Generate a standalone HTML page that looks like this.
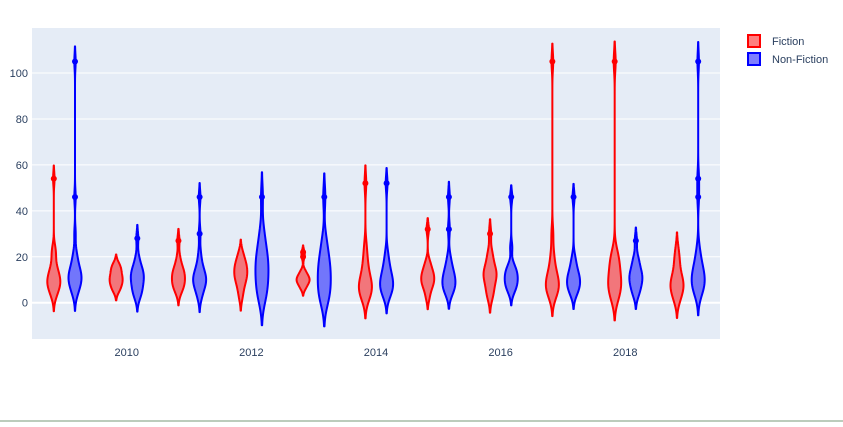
<!DOCTYPE html>
<html><head><meta charset="utf-8"><style>
body{margin:0;background:#fff;width:843px;height:422px;overflow:hidden;font-family:"Liberation Sans",sans-serif}
</style></head><body>
<svg id="chart" width="843" height="422" xmlns="http://www.w3.org/2000/svg">
<rect x="32" y="28" width="688" height="311" fill="#e5ecf6"/>
<g id="grid"></g><g id="violins"></g><g id="axes"></g>
<g>
<rect x="748" y="35" width="12" height="12" fill="rgba(255,0,0,0.5)" stroke="#f00" stroke-width="2"/>
<text x="772" y="45" font-size="11" fill="#2a3f5f">Fiction</text>
<rect x="748" y="53" width="12" height="12" fill="rgba(0,0,255,0.5)" stroke="#00f" stroke-width="2"/>
<text x="772" y="63" font-size="11" fill="#2a3f5f">Non-Fiction</text>
</g>
<line x1="0" y1="421" x2="843" y2="421" stroke="#7a9a7a" stroke-width="1"/>
</svg>
<script>
const years=[2009,2010,2011,2012,2013,2014,2015,2016,2017,2018,2019];
const fiction=[
[2,4,5,6,7,8,8,9,10,10,11,12,13,14,15,17,20,22,24,54],
[5,6,7,8,9,10,10,11,12,13,14,15,16,17],
[4,6,7,8,9,10,11,12,13,14,15,17,20,27],
[2,5,7,9,10,11,12,13,14,15,16,17,18,20,22],
[6,7,8,9,9,10,10,11,11,12,13,14,20,22],
[1,3,4,5,6,7,8,9,10,12,14,17,20,25,52],
[2,5,7,8,9,10,11,12,13,14,16,18,32],
[2,4,6,8,10,11,12,13,14,15,17,20,22,30],
[2,4,5,6,7,8,9,10,11,13,15,18,22,30,105],
[1,3,5,6,8,9,10,12,14,16,18,20,22,105],
[0,2,4,5,6,7,8,9,10,11,13,15,18,20,24]];
const nonfiction=[
[3,5,6,7,8,9,10,10,11,12,12,13,14,15,16,18,20,22,30,46,105],
[2,4,5,6,8,9,10,11,12,13,14,15,17,20,28],
[2,4,6,7,8,9,10,10,11,12,13,14,16,18,22,30,46],
[1,3,5,7,9,11,13,15,16,18,20,22,24,28,32,46],
[0,2,4,6,8,10,12,14,16,18,20,24,28,46],
[2,4,5,6,7,8,9,10,11,12,14,16,18,22,52],
[4,5,6,7,8,9,10,11,12,13,15,17,20,32,46],
[4,6,7,8,9,10,11,12,13,14,15,17,24,46],
[3,5,6,7,8,9,10,11,12,13,15,17,20,46],
[3,5,6,8,9,10,11,12,13,14,16,18,20,27],
[3,5,6,7,8,9,10,11,12,13,14,16,18,20,24,46,54,105]];
const yTicks=[0,20,40,60,80,100];
const xTicks=[2010,2012,2014,2016,2018];

const NS="http://www.w3.org/2000/svg";
const X0=32,X1=720,Y0=28,Y1=339;
const xmin=2008.48,xmax=2019.52,ymin=-15.8,ymax=119.6;
const xs=v=>X0+(v-xmin)/(xmax-xmin)*(X1-X0);
const ys=v=>Y1-(v-ymin)/(ymax-ymin)*(Y1-Y0);
function mk(tag,attrs,parent){const e=document.createElementNS(NS,tag);for(const k in attrs)e.setAttribute(k,attrs[k]);parent.appendChild(e);return e;}
const grid=document.getElementById('grid'),axes=document.getElementById('axes'),vg=document.getElementById('violins');
yTicks.forEach(t=>{
  const l=mk('line',{x1:X0,x2:X1,y1:ys(t),y2:ys(t),stroke:'#fff','stroke-width':t===0?2:1},grid);
  
  
  const tx=mk('text',{x:X0-4,y:ys(t)+4,'text-anchor':'end','font-size':11,fill:'#2a3f5f'},axes);
  
  
  tx.textContent=t;
});
xTicks.forEach(t=>{
  const tx=mk('text',{x:xs(t),y:Y1+17,'text-anchor':'middle','font-size':11,fill:'#2a3f5f'},axes);
  
  
  tx.textContent=t;
});
function quant(s,q){const p=(s.length-1)*q,i=Math.floor(p);return s[i]+(s[Math.min(i+1,s.length-1)]-s[i])*(p-i);}
function violin(vals,cx,color,fill,name){
  const s=[...vals].sort((a,b)=>a-b),n=s.length;
  const mean=s.reduce((a,b)=>a+b,0)/n;
  const sd=Math.sqrt(s.reduce((a,b)=>a+(b-mean)**2,0)/(n-1));
  const iqr=quant(s,.75)-quant(s,.25);
  const bw=0.9*Math.min(sd,iqr/1.34)*Math.pow(n,-0.2);
  const lo=s[0]-2*bw,hi=s[n-1]+2*bw,N=200;
  const pts=[];let mx=0;
  for(let i=0;i<=N;i++){const y=lo+(hi-lo)*i/N;let d=0;s.forEach(v=>d+=Math.exp(-0.5*((y-v)/bw)**2));pts.push([y,d]);if(d>mx)mx=d;}
  const hw=6.5;
  let dstr='';
  pts.forEach((p,i)=>{dstr+=(i?'L':'M')+(cx+p[1]/mx*hw).toFixed(2)+','+ys(p[0]).toFixed(2);});
  for(let i=pts.length-1;i>=0;i--){const p=pts[i];dstr+='L'+(cx-p[1]/mx*hw).toFixed(2)+','+ys(p[0]).toFixed(2);}
  dstr+='Z';
  const path=mk('path',{d:dstr,fill:fill,stroke:color,'stroke-width':2,'stroke-linejoin':'round'},vg);
  
  
  const q1=quant(s,.25),q3=quant(s,.75),fence=q3+1.5*(q3-q1),lf=q1-1.5*(q3-q1);
  s.filter(v=>v>fence||v<lf).forEach(v=>{
    const c=mk('circle',{cx:cx,cy:ys(v),r:3,fill:color},vg);
    
    
  });
}
years.forEach((yr,i)=>{
  violin(fiction[i],xs(yr-0.17),'#ff0000','rgba(255,0,0,0.5)','violin-fiction-'+yr);
  violin(nonfiction[i],xs(yr+0.17),'#0000ff','rgba(0,0,255,0.5)','violin-nonfiction-'+yr);
});
</script>
</body></html>
